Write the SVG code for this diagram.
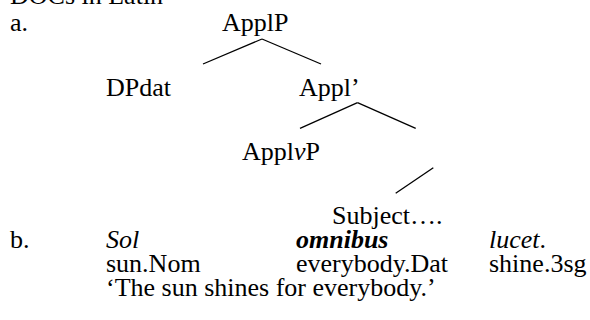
<svg xmlns="http://www.w3.org/2000/svg" width="590" height="320" viewBox="0 0 590 320">
<style>
.i{font-style:italic}
.bi{font-style:italic;font-weight:bold}
line{stroke:#000;stroke-width:1.3}
</style>
<rect width="590" height="320" fill="#fff"/>
<g font-family="Liberation Serif, serif" font-size="26" fill="#000">
<text x="10" y="4">DOCs in Latin</text>
<text x="10" y="31">a.</text>
<g id="ApplP"><text x="222" y="31">ApplP</text></g>
<g id="DPdat"><text x="106" y="96">DPdat</text></g>
<g id="Applbar"><text x="299" y="96">Appl’</text></g>
<g id="Appl"><text x="242" y="160">Appl<tspan class="i">v</tspan>P</text></g>
<g id="Subject"><text x="332" y="224">Subject….</text></g>
<text x="10" y="248">b.</text>
<text class="i" x="106" y="248">Sol</text>
<text class="bi" x="296" y="248">omnibus</text>
<text x="489" y="248"><tspan class="i">lucet</tspan>.</text>
<text x="106" y="272">sun.Nom</text>
<text x="296" y="272">everybody.Dat</text>
<text x="489" y="272">shine.3sg</text>
<text x="106" y="296">‘The sun shines for everybody.’</text>
</g>
<g id="connectors">
<line x1="262" y1="39" x2="203" y2="64"/>
<line x1="262" y1="39" x2="321" y2="64"/>
<line x1="357.5" y1="102.7" x2="300" y2="128.3"/>
<line x1="357.5" y1="102.7" x2="415.7" y2="128.3"/>
<line x1="433.3" y1="167.7" x2="395.7" y2="193.3"/>
</g>
</svg>
